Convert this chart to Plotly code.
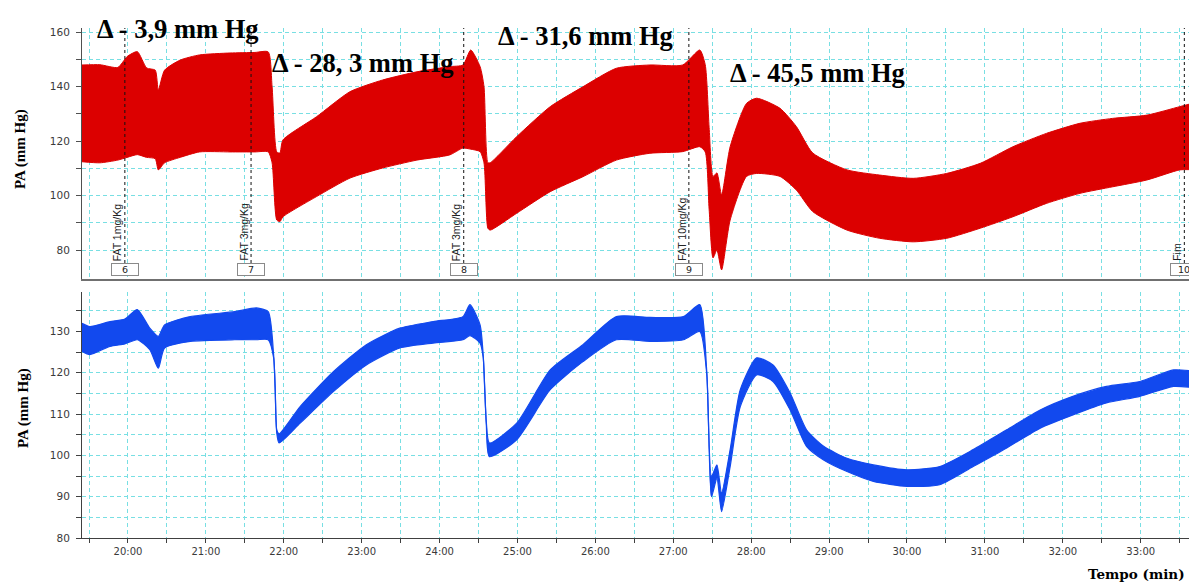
import plotly.graph_objects as go

# ---------------- data ----------------
# top panel: pulsatile arterial pressure envelope (systolic / diastolic), mm Hg
t_top = [19.41, 19.64, 19.87, 19.99, 20.12, 20.24, 20.35, 20.39, 20.47, 20.67,
         20.92, 21.31, 21.63, 21.80, 21.85, 21.91, 21.95, 21.99, 22.42, 22.85,
         23.27, 23.71, 24.13, 24.30, 24.40, 24.52, 24.57, 24.62, 24.65, 24.99,
         25.42, 25.84, 26.27, 26.70, 27.12, 27.34, 27.41, 27.46, 27.51, 27.56,
         27.62, 27.73, 27.94, 28.07, 28.37, 28.58, 28.79, 29.23, 29.65, 30.08,
         30.51, 30.94, 31.36, 31.79, 32.22, 32.64, 33.08, 33.50, 33.62]
sys_top = [147.9, 148, 147, 151, 152.8, 146.8, 146, 138.7, 146, 149.7,
           151.6, 152.3, 152.5, 152.7, 140, 116, 115.6, 120.4, 128.9, 138.1,
           142.4, 145.4, 147.3, 147.9, 153.4, 147.3, 140, 112, 112, 121.6,
           132.6, 139.9, 146.7, 147.9, 147.9, 153.4, 148, 125, 107, 108.3,
           100.2, 117.9, 133.8, 135.7, 132, 125.3, 115.6, 109.4, 107.5, 106.3,
           108.1, 111.8, 117.9, 122.8, 126.5, 128.3, 129.5, 132.6, 133.5]
dia_top = [112.4, 112, 113, 114, 115, 114, 113.5, 109.4, 112, 114,
           116, 116, 116, 116, 112, 91, 90.4, 92.2, 99.6, 106.4,
           110.1, 113, 114.9, 117.4, 117, 116.1, 112, 88, 87.3, 93.5,
           101.4, 106.9, 113, 115.5, 116.1, 117.9, 116, 95, 77.1, 80,
           72.7, 91, 107, 108.1, 107, 102, 94.1, 87.3, 84.3, 83,
           84.3, 88, 92.2, 97.1, 100.8, 103.2, 105.7, 109.4, 109.5]

# bottom panel: mean arterial pressure trace (upper / lower edge of the noisy line)
t_bot = [19.41, 19.51, 19.77, 19.96, 20.12, 20.28, 20.39, 20.47, 20.80, 21.37,
         21.65, 21.80, 21.87, 21.89, 21.91, 21.94, 22.21, 22.64, 23.06, 23.49,
         23.92, 24.30, 24.39, 24.52, 24.56, 24.58, 24.60, 24.64, 24.99, 25.42,
         25.84, 26.27, 26.70, 27.13, 27.34, 27.43, 27.49, 27.56, 27.62, 27.73,
         27.86, 28.07, 28.28, 28.50, 28.71, 28.93, 29.23, 29.57, 30.00, 30.42,
         30.85, 31.28, 31.71, 32.13, 32.56, 32.99, 33.42, 33.62]
mean_hi = [132, 131.2, 132.4, 133, 135.3, 130.8, 128.8, 131.6, 133.6, 134.8,
           135.7, 134.8, 124.3, 116.3, 106.2, 105.2, 111.8, 120.3, 126.8, 130.8,
           132.4, 133.6, 136.5, 131.6, 124.3, 116.2, 108.1, 103, 107.8, 120.7,
           126.8, 133.6, 133.4, 133.6, 136.5, 120.2, 94.9, 97.7, 90.9, 101.4,
           115.9, 123.6, 121.9, 115.1, 106.2, 102.2, 99.3, 97.7, 96.5, 97.3,
           101.4, 106.2, 111, 114.3, 116.7, 117.9, 120.7, 120.5]
mean_lo = [125.2, 124.4, 126.4, 127, 128, 125.6, 121.1, 126, 127.6, 128,
           128, 128, 123.6, 115.6, 105.4, 103, 107.8, 115.5, 121.9, 126,
           127.2, 128, 129, 127.2, 123.7, 115.6, 107.5, 99.7, 103.8, 115.9,
           122.7, 128, 127.6, 128, 130, 119.6, 90, 94.5, 86.4, 97.3,
           111.8, 119.5, 117.9, 111, 102.2, 98.9, 96.1, 93.7, 92.5, 92.9,
           97.3, 101.8, 106.6, 109.8, 112.7, 114.3, 116.7, 116.5]

# drug administration markers
event_times = [19.96, 21.58, 24.31, 27.20, 33.56]
event_labels = ["FAT 1mg/Kg", "FAT 3mg/Kg", "FAT 3mg/Kg", "FAT 10mg/Kg", "Fim"]
event_nums = ["6", "7", "8", "9", "10"]

# delta annotations
delta_texts = ["\u0394 - 3,9 mm Hg", "\u0394 - 28, 3 mm Hg", "\u0394 - 31,6 mm Hg", "\u0394 - 45,5 mm Hg"]

# axis ticks
x_grid = [19.5, 20.0, 20.5, 21.0, 21.5, 22.0, 22.5, 23.0, 23.5, 24.0, 24.5, 25.0,
          25.5, 26.0, 26.5, 27.0, 27.5, 28.0, 28.5, 29.0, 29.5, 30.0, 30.5, 31.0,
          31.5, 32.0, 32.5, 33.0, 33.5]
x_labels = ["", "20:00", "", "21:00", "", "22:00", "", "23:00", "", "24:00", "", "25:00",
            "", "26:00", "", "27:00", "", "28:00", "", "29:00", "", "30:00", "", "31:00",
            "", "32:00", "", "33:00", ""]
y_top_vals = [80, 90, 100, 110, 120, 130, 140, 150, 160]
y_top_labels = ["80", "", "100", "", "120", "", "140", "", "160"]
y_bot_vals = [80, 85, 90, 95, 100, 105, 110, 115, 120, 125, 130, 135]
y_bot_labels = ["80", "", "90", "", "100", "", "110", "", "120", "", "130", ""]

# ---------------- layout helpers ----------------
W, H = 1189, 583
def px_x(p):
    return p / W
def px_y(p):
    return 1 - p / H

RED = "#dc0000"
BLUE = "#1249ee"
GRID = "#78dfe3"
GRIDDASH = "4px,3px"
TICKFONT = dict(family="DejaVu Sans", size=10.5, color="#3a3a3a")
SMOOTH = 0.6

fig = go.Figure()

# top: envelope band
fig.add_trace(go.Scatter(x=t_top, y=dia_top, mode="lines",
                         line=dict(color=RED, width=1, shape="spline", smoothing=SMOOTH),
                         xaxis="x", yaxis="y", showlegend=False, hoverinfo="skip"))
fig.add_trace(go.Scatter(x=t_top, y=sys_top, mode="lines",
                         line=dict(color=RED, width=1, shape="spline", smoothing=SMOOTH),
                         fill="tonexty", fillcolor=RED,
                         xaxis="x", yaxis="y", showlegend=False, hoverinfo="skip"))
# bottom: mean pressure
fig.add_trace(go.Scatter(x=t_bot, y=mean_lo, mode="lines",
                         line=dict(color=BLUE, width=1.2, shape="spline", smoothing=SMOOTH),
                         xaxis="x2", yaxis="y2", showlegend=False, hoverinfo="skip"))
fig.add_trace(go.Scatter(x=t_bot, y=mean_hi, mode="lines",
                         line=dict(color=BLUE, width=1.2, shape="spline", smoothing=SMOOTH),
                         fill="tonexty", fillcolor=BLUE,
                         xaxis="x2", yaxis="y2", showlegend=False, hoverinfo="skip"))

x_range = [19.41, 33.62]
x_dom = [px_x(82), 1.0]
y_top_range = [69.36, 161.47]
y_bot_range = [80, 139.56]

common_x = dict(range=x_range, domain=x_dom, tickmode="array", tickvals=x_grid,
                showgrid=True, gridcolor=GRID, griddash=GRIDDASH, gridwidth=1,
                zeroline=False, showline=True, automargin=False, fixedrange=True)

fig.update_layout(
    width=W, height=H,
    margin=dict(l=0, r=0, t=0, b=0),
    paper_bgcolor="white", plot_bgcolor="white",
    xaxis=dict(common_x, anchor="y", ticktext=[""] * len(x_grid), ticks="",
               linecolor="#707070", linewidth=2, showticklabels=False),
    yaxis=dict(range=y_top_range, domain=[px_y(279), px_y(28)], anchor="x",
               tickmode="array", tickvals=y_top_vals, ticktext=y_top_labels,
               showgrid=True, gridcolor=GRID, griddash=GRIDDASH, gridwidth=1,
               zeroline=False, showline=True, linecolor="#505050", linewidth=1,
               ticks="outside", ticklen=5, tickcolor="#505050", tickfont=TICKFONT,
               ticklabelstandoff=4, automargin=False, fixedrange=True),
    xaxis2=dict(common_x, anchor="y2", ticktext=x_labels, ticks="outside", ticklen=4,
                tickcolor="#404040", linecolor="#404040", linewidth=1,
                tickfont=dict(family="DejaVu Sans", size=10, color="#3a3a3a")),
    yaxis2=dict(range=y_bot_range, domain=[px_y(538), px_y(292)], anchor="x2",
                tickmode="array", tickvals=y_bot_vals, ticktext=y_bot_labels,
                showgrid=True, gridcolor=GRID, griddash=GRIDDASH, gridwidth=1,
                zeroline=False, showline=True, linecolor="#404040", linewidth=1,
                ticks="outside", ticklen=5, tickcolor="#404040", tickfont=TICKFONT,
                ticklabelstandoff=4, automargin=False, fixedrange=True),
)

shapes = []
annotations = []
box_top = 160 - (263 - 32) / 2.725
box_mid = 160 - (269.5 - 32) / 2.725
for t, lab, num in zip(event_times, event_labels, event_nums):
    shapes.append(dict(type="line", xref="x", yref="y", x0=t, x1=t,
                       y0=box_top, y1=y_top_range[1],
                       line=dict(color="#111111", width=1, dash="dot"), layer="above"))
    annotations.append(dict(xref="x", yref="y", x=t, y=box_top, text=lab, textangle=-90,
                            showarrow=False, xanchor="center", yanchor="bottom",
                            xshift=-7.5, yshift=0,
                            font=dict(family="Liberation Sans", size=10.5, color="#222222")))
    annotations.append(dict(xref="x", yref="y", x=t, y=box_mid, text=num, showarrow=False,
                            xanchor="center", yanchor="middle", width=24, height=9,
                            bordercolor="#8a8a8a", borderwidth=1, borderpad=1,
                            bgcolor="white",
                            font=dict(family="DejaVu Sans", size=9.5, color="#222222")))

# delta texts (pixel placement: left edge, vertical center)
delta_pos = [(95, 29), (270, 63), (496, 36), (728, 73)]
for txt, (lx, cy) in zip(delta_texts, delta_pos):
    annotations.append(dict(xref="paper", yref="paper", x=px_x(lx), y=px_y(cy), text=txt,
                            showarrow=False, xanchor="left", yanchor="middle",
                            font=dict(family="Liberation Serif", size=26.5, color="black",
                                      weight="bold")))

# axis titles
annotations.append(dict(xref="paper", yref="paper", x=px_x(20), y=px_y(149),
                        text="PA (mm Hg)", textangle=-90, showarrow=False,
                        xanchor="center", yanchor="middle",
                        font=dict(family="Liberation Serif", size=15, color="black",
                                  weight="bold")))
annotations.append(dict(xref="paper", yref="paper", x=px_x(23), y=px_y(408),
                        text="PA (mm Hg)", textangle=-90, showarrow=False,
                        xanchor="center", yanchor="middle",
                        font=dict(family="Liberation Serif", size=15, color="black",
                                  weight="bold")))
annotations.append(dict(xref="paper", yref="paper", x=px_x(1187), y=px_y(574),
                        text="Tempo (min)", showarrow=False,
                        xanchor="right", yanchor="middle",
                        font=dict(family="DejaVu Serif", size=13.5, color="black",
                                  weight="bold")))

fig.update_layout(shapes=shapes, annotations=annotations)
fig.write_html("out.html")
